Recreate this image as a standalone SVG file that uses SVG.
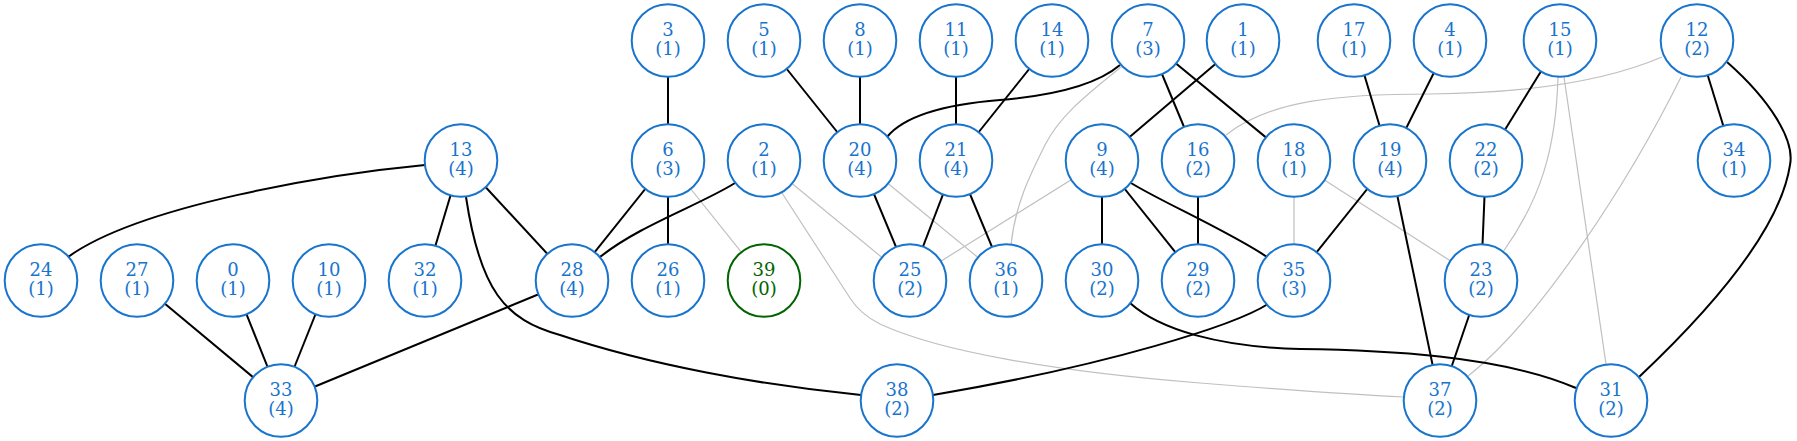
<svg xmlns="http://www.w3.org/2000/svg" width="1797" height="441" viewBox="0 0 1797 441">
<style>
.n circle{fill:#ffffff;stroke:#1874cd;stroke-width:2}
.n text{fill:#1874cd;font-family:"DejaVu Serif",serif;font-size:18px;text-anchor:middle}
.g circle{fill:#ffffff;stroke:#006400;stroke-width:2}
.g text{fill:#006400;font-family:"DejaVu Serif",serif;font-size:18px;text-anchor:middle}
.e{fill:none;stroke:#000000;stroke-width:2}
.f{fill:none;stroke:#c0c0c0;stroke-width:1.2}
</style>
<rect width="1797" height="441" fill="#ffffff"/>
<g id="edges">
<!-- gray edges -->
<path class="f" d="M1662,57 C1620,75 1550,93 1430,94 C1340,94 1270,100 1226,135"/>
<path class="f" d="M1681,77 C1630,180 1540,320 1468,376"/>
<path class="f" d="M1558,77 C1556,150 1540,200 1503,252"/>
<path class="f" d="M1564,77 L1606,364"/>
<path class="f" d="M1121,67 C1090,92 1060,115 1045,145 C1030,175 1015,205 1011,245"/>
<path class="f" d="M668,160.5 L764,280.5"/>
<path class="f" d="M764,160.5 L910,280.5"/>
<path class="f" d="M782,193 L850,298 Q860,314 880,324 C940,352 1060,372 1200,383 C1300,391 1360,395 1404,397"/>
<path class="f" d="M860,160.5 L1006,280.5"/>
<path class="f" d="M1102,160.5 L910,280.5"/>
<path class="f" d="M1294,160.5 L1294,280.5"/>
<path class="f" d="M1294,160.5 L1481,280.5"/>
<!-- black edges -->
<path class="e" d="M668,40.5 L668,160.5"/>
<path class="e" d="M764,40.5 L860,160.5"/>
<path class="e" d="M860,40.5 L860,160.5"/>
<path class="e" d="M956,40.5 L956,160.5"/>
<path class="e" d="M1052,40.5 L956,160.5"/>
<path class="e" d="M1120,65 C1100,82 1060,95 1000,100 C950,104 905,115 887,137"/>
<path class="e" d="M1148,40.5 L1198,160.5"/>
<path class="e" d="M1148,40.5 L1294,160.5"/>
<path class="e" d="M1243,40.5 L1102,160.5"/>
<path class="e" d="M1354,40.5 L1390,160.5"/>
<path class="e" d="M1450,40.5 L1390,160.5"/>
<path class="e" d="M1560,40.5 L1486,160.5"/>
<path class="e" d="M1697,40.5 L1734,160.5"/>
<path class="e" d="M1727,62 C1770,100 1795,140 1790,165 C1780,230 1710,310 1639,377"/>
<path class="e" d="M425,165 C330,174 140,205 68,257"/>
<path class="e" d="M461,160.5 L425,280.5"/>
<path class="e" d="M461,160.5 L572,280.5"/>
<path class="e" d="M466,197 C480,290 505,320 560,335 C650,365 760,385 861,395"/>
<path class="e" d="M668,160.5 L572,280.5"/>
<path class="e" d="M668,160.5 L668,280.5"/>
<path class="e" d="M735,183 C700,205 640,225 600,257"/>
<path class="e" d="M860,160.5 L910,280.5"/>
<path class="e" d="M956,160.5 L910,280.5"/>
<path class="e" d="M956,160.5 L1006,280.5"/>
<path class="e" d="M1102,160.5 L1102,280.5"/>
<path class="e" d="M1102,160.5 L1198,280.5"/>
<path class="e" d="M1131,183 C1160,201 1230,232 1267,257"/>
<path class="e" d="M1198,160.5 L1198,280.5"/>
<path class="e" d="M1390,160.5 L1294,280.5"/>
<path class="e" d="M1390,160.5 L1440,400.5"/>
<path class="e" d="M1486,160.5 L1481,280.5"/>
<path class="e" d="M1481,280.5 L1440,400.5"/>
<path class="e" d="M137,280.5 L281,400.5"/>
<path class="e" d="M233,280.5 L281,400.5"/>
<path class="e" d="M329,280.5 L281,400.5"/>
<path class="e" d="M572,280.5 L281,400.5"/>
<path class="e" d="M1268,304 C1235,325 1110,365 933,395"/>
<path class="e" d="M1130,303 C1160,330 1220,347 1300,349 C1380,350 1500,355 1576,388"/>
</g>
<!-- row 1 -->
<g id="node-3" class="n"><circle cx="668" cy="40.5" r="36.3"/><text x="668" y="35.5">3</text><text x="668" y="54.5">(1)</text></g>
<g id="node-5" class="n"><circle cx="764" cy="40.5" r="36.3"/><text x="764" y="35.5">5</text><text x="764" y="54.5">(1)</text></g>
<g id="node-8" class="n"><circle cx="860" cy="40.5" r="36.3"/><text x="860" y="35.5">8</text><text x="860" y="54.5">(1)</text></g>
<g id="node-11" class="n"><circle cx="956" cy="40.5" r="36.3"/><text x="956" y="35.5">11</text><text x="956" y="54.5">(1)</text></g>
<g id="node-14" class="n"><circle cx="1052" cy="40.5" r="36.3"/><text x="1052" y="35.5">14</text><text x="1052" y="54.5">(1)</text></g>
<g id="node-7" class="n"><circle cx="1148" cy="40.5" r="36.3"/><text x="1148" y="35.5">7</text><text x="1148" y="54.5">(3)</text></g>
<g id="node-1" class="n"><circle cx="1243" cy="40.5" r="36.3"/><text x="1243" y="35.5">1</text><text x="1243" y="54.5">(1)</text></g>
<g id="node-17" class="n"><circle cx="1354" cy="40.5" r="36.3"/><text x="1354" y="35.5">17</text><text x="1354" y="54.5">(1)</text></g>
<g id="node-4" class="n"><circle cx="1450" cy="40.5" r="36.3"/><text x="1450" y="35.5">4</text><text x="1450" y="54.5">(1)</text></g>
<g id="node-15" class="n"><circle cx="1560" cy="40.5" r="36.3"/><text x="1560" y="35.5">15</text><text x="1560" y="54.5">(1)</text></g>
<g id="node-12" class="n"><circle cx="1697" cy="40.5" r="36.3"/><text x="1697" y="35.5">12</text><text x="1697" y="54.5">(2)</text></g>
<!-- row 2 -->
<g id="node-13" class="n"><circle cx="461" cy="160.5" r="36.3"/><text x="461" y="155.5">13</text><text x="461" y="174.5">(4)</text></g>
<g id="node-6" class="n"><circle cx="668" cy="160.5" r="36.3"/><text x="668" y="155.5">6</text><text x="668" y="174.5">(3)</text></g>
<g id="node-2" class="n"><circle cx="764" cy="160.5" r="36.3"/><text x="764" y="155.5">2</text><text x="764" y="174.5">(1)</text></g>
<g id="node-20" class="n"><circle cx="860" cy="160.5" r="36.3"/><text x="860" y="155.5">20</text><text x="860" y="174.5">(4)</text></g>
<g id="node-21" class="n"><circle cx="956" cy="160.5" r="36.3"/><text x="956" y="155.5">21</text><text x="956" y="174.5">(4)</text></g>
<g id="node-9" class="n"><circle cx="1102" cy="160.5" r="36.3"/><text x="1102" y="155.5">9</text><text x="1102" y="174.5">(4)</text></g>
<g id="node-16" class="n"><circle cx="1198" cy="160.5" r="36.3"/><text x="1198" y="155.5">16</text><text x="1198" y="174.5">(2)</text></g>
<g id="node-18" class="n"><circle cx="1294" cy="160.5" r="36.3"/><text x="1294" y="155.5">18</text><text x="1294" y="174.5">(1)</text></g>
<g id="node-19" class="n"><circle cx="1390" cy="160.5" r="36.3"/><text x="1390" y="155.5">19</text><text x="1390" y="174.5">(4)</text></g>
<g id="node-22" class="n"><circle cx="1486" cy="160.5" r="36.3"/><text x="1486" y="155.5">22</text><text x="1486" y="174.5">(2)</text></g>
<g id="node-34" class="n"><circle cx="1734" cy="160.5" r="36.3"/><text x="1734" y="155.5">34</text><text x="1734" y="174.5">(1)</text></g>
<!-- row 3 -->
<g id="node-24" class="n"><circle cx="41" cy="280.5" r="36.3"/><text x="41" y="275.5">24</text><text x="41" y="294.5">(1)</text></g>
<g id="node-27" class="n"><circle cx="137" cy="280.5" r="36.3"/><text x="137" y="275.5">27</text><text x="137" y="294.5">(1)</text></g>
<g id="node-0" class="n"><circle cx="233" cy="280.5" r="36.3"/><text x="233" y="275.5">0</text><text x="233" y="294.5">(1)</text></g>
<g id="node-10" class="n"><circle cx="329" cy="280.5" r="36.3"/><text x="329" y="275.5">10</text><text x="329" y="294.5">(1)</text></g>
<g id="node-32" class="n"><circle cx="425" cy="280.5" r="36.3"/><text x="425" y="275.5">32</text><text x="425" y="294.5">(1)</text></g>
<g id="node-28" class="n"><circle cx="572" cy="280.5" r="36.3"/><text x="572" y="275.5">28</text><text x="572" y="294.5">(4)</text></g>
<g id="node-26" class="n"><circle cx="668" cy="280.5" r="36.3"/><text x="668" y="275.5">26</text><text x="668" y="294.5">(1)</text></g>
<g id="node-39" class="g"><circle cx="764" cy="280.5" r="36.3"/><text x="764" y="275.5">39</text><text x="764" y="294.5">(0)</text></g>
<g id="node-25" class="n"><circle cx="910" cy="280.5" r="36.3"/><text x="910" y="275.5">25</text><text x="910" y="294.5">(2)</text></g>
<g id="node-36" class="n"><circle cx="1006" cy="280.5" r="36.3"/><text x="1006" y="275.5">36</text><text x="1006" y="294.5">(1)</text></g>
<g id="node-30" class="n"><circle cx="1102" cy="280.5" r="36.3"/><text x="1102" y="275.5">30</text><text x="1102" y="294.5">(2)</text></g>
<g id="node-29" class="n"><circle cx="1198" cy="280.5" r="36.3"/><text x="1198" y="275.5">29</text><text x="1198" y="294.5">(2)</text></g>
<g id="node-35" class="n"><circle cx="1294" cy="280.5" r="36.3"/><text x="1294" y="275.5">35</text><text x="1294" y="294.5">(3)</text></g>
<g id="node-23" class="n"><circle cx="1481" cy="280.5" r="36.3"/><text x="1481" y="275.5">23</text><text x="1481" y="294.5">(2)</text></g>
<!-- row 4 -->
<g id="node-33" class="n"><circle cx="281" cy="400.5" r="36.3"/><text x="281" y="395.5">33</text><text x="281" y="414.5">(4)</text></g>
<g id="node-38" class="n"><circle cx="897" cy="400.5" r="36.3"/><text x="897" y="395.5">38</text><text x="897" y="414.5">(2)</text></g>
<g id="node-37" class="n"><circle cx="1440" cy="400.5" r="36.3"/><text x="1440" y="395.5">37</text><text x="1440" y="414.5">(2)</text></g>
<g id="node-31" class="n"><circle cx="1611" cy="400.5" r="36.3"/><text x="1611" y="395.5">31</text><text x="1611" y="414.5">(2)</text></g>
</svg>
